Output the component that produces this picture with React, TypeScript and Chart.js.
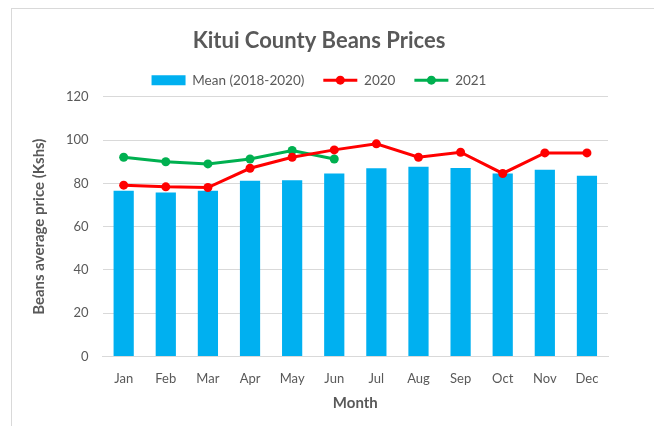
import React, { useEffect, useRef } from "react";
import { Chart, registerables } from "chart.js";

Chart.register(...registerables);

const months = ["Jan", "Feb", "Mar", "Apr", "May", "Jun", "Jul", "Aug", "Sep", "Oct", "Nov", "Dec"];
const meanValues = [76.6, 75.8, 76.6, 81.2, 81.5, 84.6, 87, 87.7, 87.1, 84.6, 86.3, 83.5];
const values2020 = [79.2, 78.4, 78.1, 87, 92.1, 95.5, 98.3, 92.1, 94.4, 84.6, 94.1, 94.1];
const values2021 = [92.1, 90, 89, 91.3, 95.2, 91.3, null, null, null, null, null, null];
const yTicks = [0, 20, 40, 60, 80, 100, 120];

const FONT = "Lato, 'Open Sans', sans-serif";
const GRAY = "#595959";

const legendMarkers = {
  id: "legendMarkers",
  afterDraw(chart: any) {
    const legend = chart.legend;
    if (!legend || !legend.legendHitBoxes) return;
    const ctx = chart.ctx;
    legend.legendItems.forEach((item: any, i: number) => {
      const ds = chart.data.datasets[item.datasetIndex];
      if (ds.type !== "line") return;
      const box = legend.legendHitBoxes[i];
      const cx = box.left + 17;
      const cy = box.top + box.height / 2;
      ctx.save();
      ctx.fillStyle = ds.borderColor;
      ctx.beginPath();
      ctx.arc(cx, cy, 4.5, 0, Math.PI * 2);
      ctx.fill();
      ctx.restore();
    });
  },
};

export default function App() {
  const ref = useRef<HTMLCanvasElement | null>(null);
  useEffect(() => {
    if (!ref.current) return;
    const chart = new Chart(ref.current, {
      type: "bar",
      data: {
        labels: months,
        datasets: [
          {
            type: "bar",
            label: "Mean (2018-2020)",
            data: meanValues,
            backgroundColor: "#00B0F0",
            borderWidth: 0,
            barPercentage: 0.48,
            categoryPercentage: 1,
            order: 3,
          } as any,
          {
            type: "line",
            label: "2020",
            data: values2020,
            borderColor: "#FF0000",
            backgroundColor: "#FF0000",
            borderWidth: 3,
            pointRadius: 4.5,
            pointBackgroundColor: "#FF0000",
            pointBorderWidth: 0,
            tension: 0,
            order: 1,
          } as any,
          {
            type: "line",
            label: "2021",
            data: values2021,
            borderColor: "#00B050",
            backgroundColor: "#00B050",
            borderWidth: 3,
            pointRadius: 4.5,
            pointBackgroundColor: "#00B050",
            pointBorderWidth: 0,
            tension: 0,
            spanGaps: false,
            order: 2,
          } as any,
        ],
      },
      options: {
        animation: false,
        responsive: false,
        maintainAspectRatio: false,
        layout: { padding: { left: 30, right: 46, top: 28, bottom: 14 } },
        elements: {
          point: { pointStyle: "circle" },
        },
        plugins: {
          tooltip: { enabled: false },
          title: {
            display: true,
            text: "Kitui County Beans Prices",
            color: GRAY,
            font: { family: FONT, size: 22, weight: "bold" },
            padding: { top: 0, bottom: 0 },
          },
          legend: {
            display: true,
            position: "top",
            labels: {
              usePointStyle: true,
              pointStyleWidth: 34,
              boxHeight: 10,
              color: GRAY,
              font: { family: FONT, size: 13.5 },
              padding: 19,
              generateLabels(chart: any) {
                return chart.data.datasets.map((ds: any, i: number) => ({
                  text: ds.label,
                  fillStyle: ds.backgroundColor,
                  strokeStyle: ds.type === "line" ? ds.borderColor : ds.backgroundColor,
                  lineWidth: ds.type === "line" ? 3 : 0,
                  pointStyle: ds.type === "line" ? "line" : "rect",
                  datasetIndex: i,
                  hidden: false,
                  fontColor: GRAY,
                }));
              },
            },
          },
        },
        scales: {
          x: {
            grid: { display: false, drawTicks: false },
            border: { display: true, color: "#D9D9D9", width: 1 },
            ticks: { color: GRAY, font: { family: FONT, size: 13 }, padding: 15 },
            title: {
              display: true,
              text: "Month",
              color: GRAY,
              font: { family: FONT, size: 15, weight: "bold" },
              padding: { top: -8, bottom: 0 },
            },
          },
          y: {
            min: 0,
            max: 120,
            afterBuildTicks(axis: any) {
              axis.ticks = yTicks.map((v) => ({ value: v }));
            },
            grid: { color: "#D9D9D9", drawTicks: false },
            border: { display: false },
            ticks: { color: GRAY, font: { family: FONT, size: 13 }, padding: 14 },
            title: {
              display: true,
              text: "Beans average price (Kshs)",
              color: GRAY,
              font: { family: FONT, size: 15, weight: "bold" },
              padding: { top: 0, bottom: 4 },
            },
          },
        },
      },
      plugins: [legendMarkers],
    } as any);
    return () => chart.destroy();
  }, []);

  return (
    <div style={{ position: "fixed", left: 0, top: 0, width: 654, height: 426, background: "#fff", overflow: "hidden" }}>
      <div
        style={{
          position: "absolute",
          left: 11,
          top: 8,
          width: 660,
          height: 440,
          border: "1px solid #D9D9D9",
          boxSizing: "border-box",
        }}
      />
      <canvas ref={ref} width={654} height={426} style={{ position: "absolute", left: 0, top: 0, width: 654, height: 426 }} />
    </div>
  );
}
